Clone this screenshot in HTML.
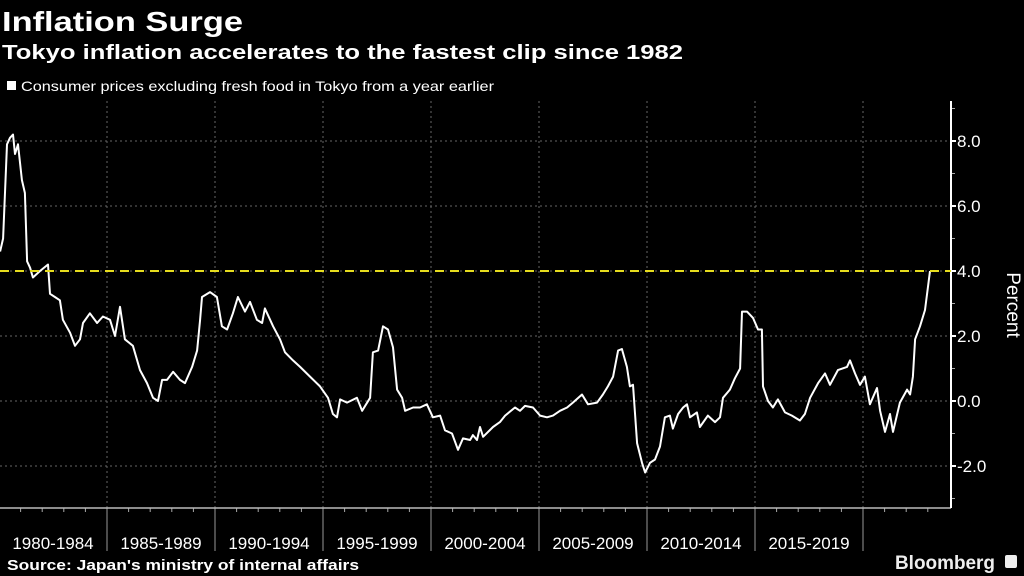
<!DOCTYPE html>
<html><head><meta charset="utf-8"><style>
html,body{margin:0;padding:0;background:#000;}
svg{display:block;font-family:"Liberation Sans",sans-serif;}
</style></head><body>
<svg id="chart" width="1024" height="576" viewBox="0 0 1024 576">
<rect width="1024" height="576" fill="#000"/>
<text x="2" y="31" font-size="28" font-weight="bold" fill="#fff" textLength="241" lengthAdjust="spacingAndGlyphs">Inflation Surge</text>
<text x="2" y="59" font-size="20" font-weight="bold" fill="#fff" textLength="681" lengthAdjust="spacingAndGlyphs">Tokyo inflation accelerates to the fastest clip since 1982</text>
<rect x="7" y="81" width="9" height="9" fill="#fff"/>
<text x="21" y="91" font-size="14" fill="#fff" textLength="473" lengthAdjust="spacingAndGlyphs">Consumer prices excluding fresh food in Tokyo from a year earlier</text>
<g id="grid"></g>
<g id="axes"></g>
<path id="line" fill="none" stroke="#fff" stroke-width="2" stroke-linejoin="round"/>
<line id="ref" stroke="#e6dc1e" stroke-width="2" stroke-dasharray="9,6"/>
<text transform="translate(1007,305) rotate(90)" text-anchor="middle" font-size="19" fill="#fff">Percent</text>
<text x="7" y="570" font-size="15" font-weight="bold" fill="#fff" textLength="352" lengthAdjust="spacingAndGlyphs">Source: Japan's ministry of internal affairs</text>
<text x="895" y="569" font-size="19" font-weight="bold" fill="#eee" textLength="100" lengthAdjust="spacingAndGlyphs">Bloomberg</text>
<rect x="1005" y="555" width="12" height="13" rx="2" fill="#eee"/>
</svg>
<script>
const dates = [1980.05,1980.19,1980.37,1980.51,1980.65,1980.74,1980.88,1981.06,1981.20,1981.30,1981.44,1981.57,1981.90,1982.27,1982.36,1982.59,1982.82,1982.96,1983.29,1983.52,1983.75,1983.89,1984.21,1984.54,1984.81,1985.14,1985.37,1985.60,1985.83,1986.20,1986.53,1986.85,1987.13,1987.36,1987.55,1987.78,1988.06,1988.38,1988.61,1988.94,1989.17,1989.31,1989.40,1989.77,1990.09,1990.32,1990.56,1990.83,1991.06,1991.39,1991.62,1991.94,1992.18,1992.31,1992.69,1993.01,1993.24,1993.61,1993.94,1994.40,1994.86,1995.23,1995.46,1995.65,1995.79,1996.11,1996.57,1996.81,1997.18,1997.31,1997.55,1997.78,1998.01,1998.24,1998.43,1998.66,1998.80,1999.17,1999.49,1999.81,2000.09,2000.42,2000.65,2000.97,2001.25,2001.48,2001.81,2001.94,2002.13,2002.27,2002.41,2002.87,2003.19,2003.43,2003.89,2004.12,2004.35,2004.72,2005.05,2005.37,2005.65,2005.97,2006.30,2006.57,2006.99,2007.27,2007.69,2007.96,2008.19,2008.43,2008.66,2008.84,2009.07,2009.21,2009.35,2009.54,2009.77,2009.91,2010.14,2010.37,2010.60,2010.83,2011.06,2011.20,2011.44,2011.67,2011.85,2011.99,2012.31,2012.45,2012.82,2013.15,2013.38,2013.52,2013.84,2014.07,2014.31,2014.40,2014.63,2014.91,2015.14,2015.32,2015.37,2015.60,2015.83,2016.06,2016.39,2016.71,2017.08,2017.31,2017.55,2017.92,2018.24,2018.47,2018.84,2019.26,2019.40,2019.63,2019.86,2020.09,2020.32,2020.65,2020.79,2021.02,2021.25,2021.39,2021.71,2022.04,2022.18,2022.31,2022.41,2022.64,2022.87,2023.10];
const values = [4.6,5.0,7.9,8.1,8.2,7.6,7.9,6.8,6.4,4.3,4.1,3.8,4.0,4.2,3.3,3.2,3.1,2.5,2.1,1.7,1.9,2.4,2.7,2.4,2.6,2.5,2.0,2.9,1.9,1.7,0.95,0.55,0.1,0.0,0.65,0.65,0.9,0.65,0.55,1.05,1.55,2.5,3.2,3.35,3.2,2.3,2.2,2.7,3.2,2.75,3.05,2.5,2.4,2.85,2.3,1.9,1.5,1.25,1.05,0.75,0.45,0.1,-0.4,-0.5,0.05,-0.05,0.1,-0.3,0.1,1.5,1.55,2.3,2.2,1.65,0.35,0.1,-0.3,-0.2,-0.2,-0.1,-0.5,-0.45,-0.9,-1.0,-1.5,-1.15,-1.2,-1.05,-1.2,-0.8,-1.1,-0.8,-0.65,-0.45,-0.2,-0.3,-0.15,-0.2,-0.45,-0.5,-0.45,-0.3,-0.2,-0.05,0.2,-0.1,-0.05,0.2,0.45,0.75,1.55,1.6,1.05,0.45,0.5,-1.3,-1.9,-2.2,-1.9,-1.8,-1.4,-0.5,-0.45,-0.85,-0.4,-0.2,-0.1,-0.5,-0.35,-0.8,-0.45,-0.65,-0.5,0.1,0.35,0.7,1.0,2.75,2.75,2.55,2.2,2.2,0.45,0.0,-0.2,0.05,-0.35,-0.45,-0.6,-0.4,0.1,0.55,0.85,0.5,0.95,1.05,1.25,0.85,0.5,0.75,-0.1,0.4,-0.3,-0.95,-0.4,-0.95,-0.05,0.35,0.2,0.75,1.9,2.3,2.8,4.0];
const yTicks = [-2,0,2,4,6,8];
const yTickLabels = ["-2.0","0.0","2.0","4.0","6.0","8.0"];
const periods = ["1980-1984","1985-1989","1990-1994","1995-1999","2000-2004","2005-2009","2010-2014","2015-2019"];
const periodStarts = [1980,1985,1990,1995,2000,2005,2010,2015];
const refValue = 4.0;

const NS = "http://www.w3.org/2000/svg";
const X0 = -1, PXY = 21.6, Y0 = 401, PXV = 32.5;
const AXIS_X = 951, TOP = 101, BOTTOM = 508;
function xs(yr){ return X0 + (yr - 1980) * PXY; }
function ys(v){ return Y0 - v * PXV; }
function mk(tag, attrs, parent){ const e = document.createElementNS(NS, tag); for (const k in attrs) e.setAttribute(k, attrs[k]); parent.appendChild(e); return e; }
const grid = document.getElementById('grid'), axes = document.getElementById('axes');

yTicks.forEach((t, i) => {
  const gl = mk('line', {x1:0, x2:AXIS_X, y1:ys(t), y2:ys(t), stroke:'#666', 'stroke-width':1, 'stroke-dasharray':'2,3'}, grid);
  
  
  const tk = mk('line', {x1:AXIS_X, x2:AXIS_X + 5, y1:ys(t), y2:ys(t), stroke:'#fff', 'stroke-width':2}, axes);
  
  
  const lb = mk('text', {x:AXIS_X + 6, y:ys(t) + 6, 'font-size':17, fill:'#fff'}, axes);
  lb.textContent = yTickLabels[i];
  
  
});
for (let v = -3; v <= 9; v += 2) {
  const mt = mk('line', {x1:AXIS_X, x2:AXIS_X + 4, y1:ys(v), y2:ys(v), stroke:'#aaa', 'stroke-width':1}, axes);
  
  
}
periodStarts.concat([2020]).forEach(p => {
  if (p === 1980) return;
  const vl = mk('line', {x1:xs(p), x2:xs(p), y1:TOP, y2:BOTTOM, stroke:'#666', 'stroke-width':1, 'stroke-dasharray':'2,3'}, grid);
  
  
  const sp = mk('line', {x1:xs(p), x2:xs(p), y1:BOTTOM, y2:551, stroke:'#999', 'stroke-width':1}, axes);
  
  
});
for (let yr = 1981; yr <= 2023; yr++) {
  if (yr % 5 === 0) continue;
  const mt = mk('line', {x1:xs(yr), x2:xs(yr), y1:BOTTOM, y2:BOTTOM + 4, stroke:'#aaa', 'stroke-width':1}, axes);
  
  
}
periods.forEach((p, i) => {
  const lb = mk('text', {x:xs(periodStarts[i] + 2.5), y:549, 'font-size':17, fill:'#fff', 'text-anchor':'middle'}, axes);
  lb.textContent = p;
  
  
});
const xa = mk('line', {x1:0, x2:AXIS_X, y1:BOTTOM, y2:BOTTOM, stroke:'#bbb', 'stroke-width':1.5}, axes);


const ya = mk('line', {x1:AXIS_X, x2:AXIS_X, y1:TOP, y2:BOTTOM, stroke:'#fff', 'stroke-width':2}, axes);



document.getElementById('line').setAttribute('d', dates.map((d, i) => (i ? 'L' : 'M') + xs(d).toFixed(1) + ',' + ys(values[i]).toFixed(1)).join(''));
const ref = document.getElementById('ref');
ref.setAttribute('x1', 0); ref.setAttribute('x2', AXIS_X);
ref.setAttribute('y1', ys(refValue)); ref.setAttribute('y2', ys(refValue));
</script>
</body></html>
